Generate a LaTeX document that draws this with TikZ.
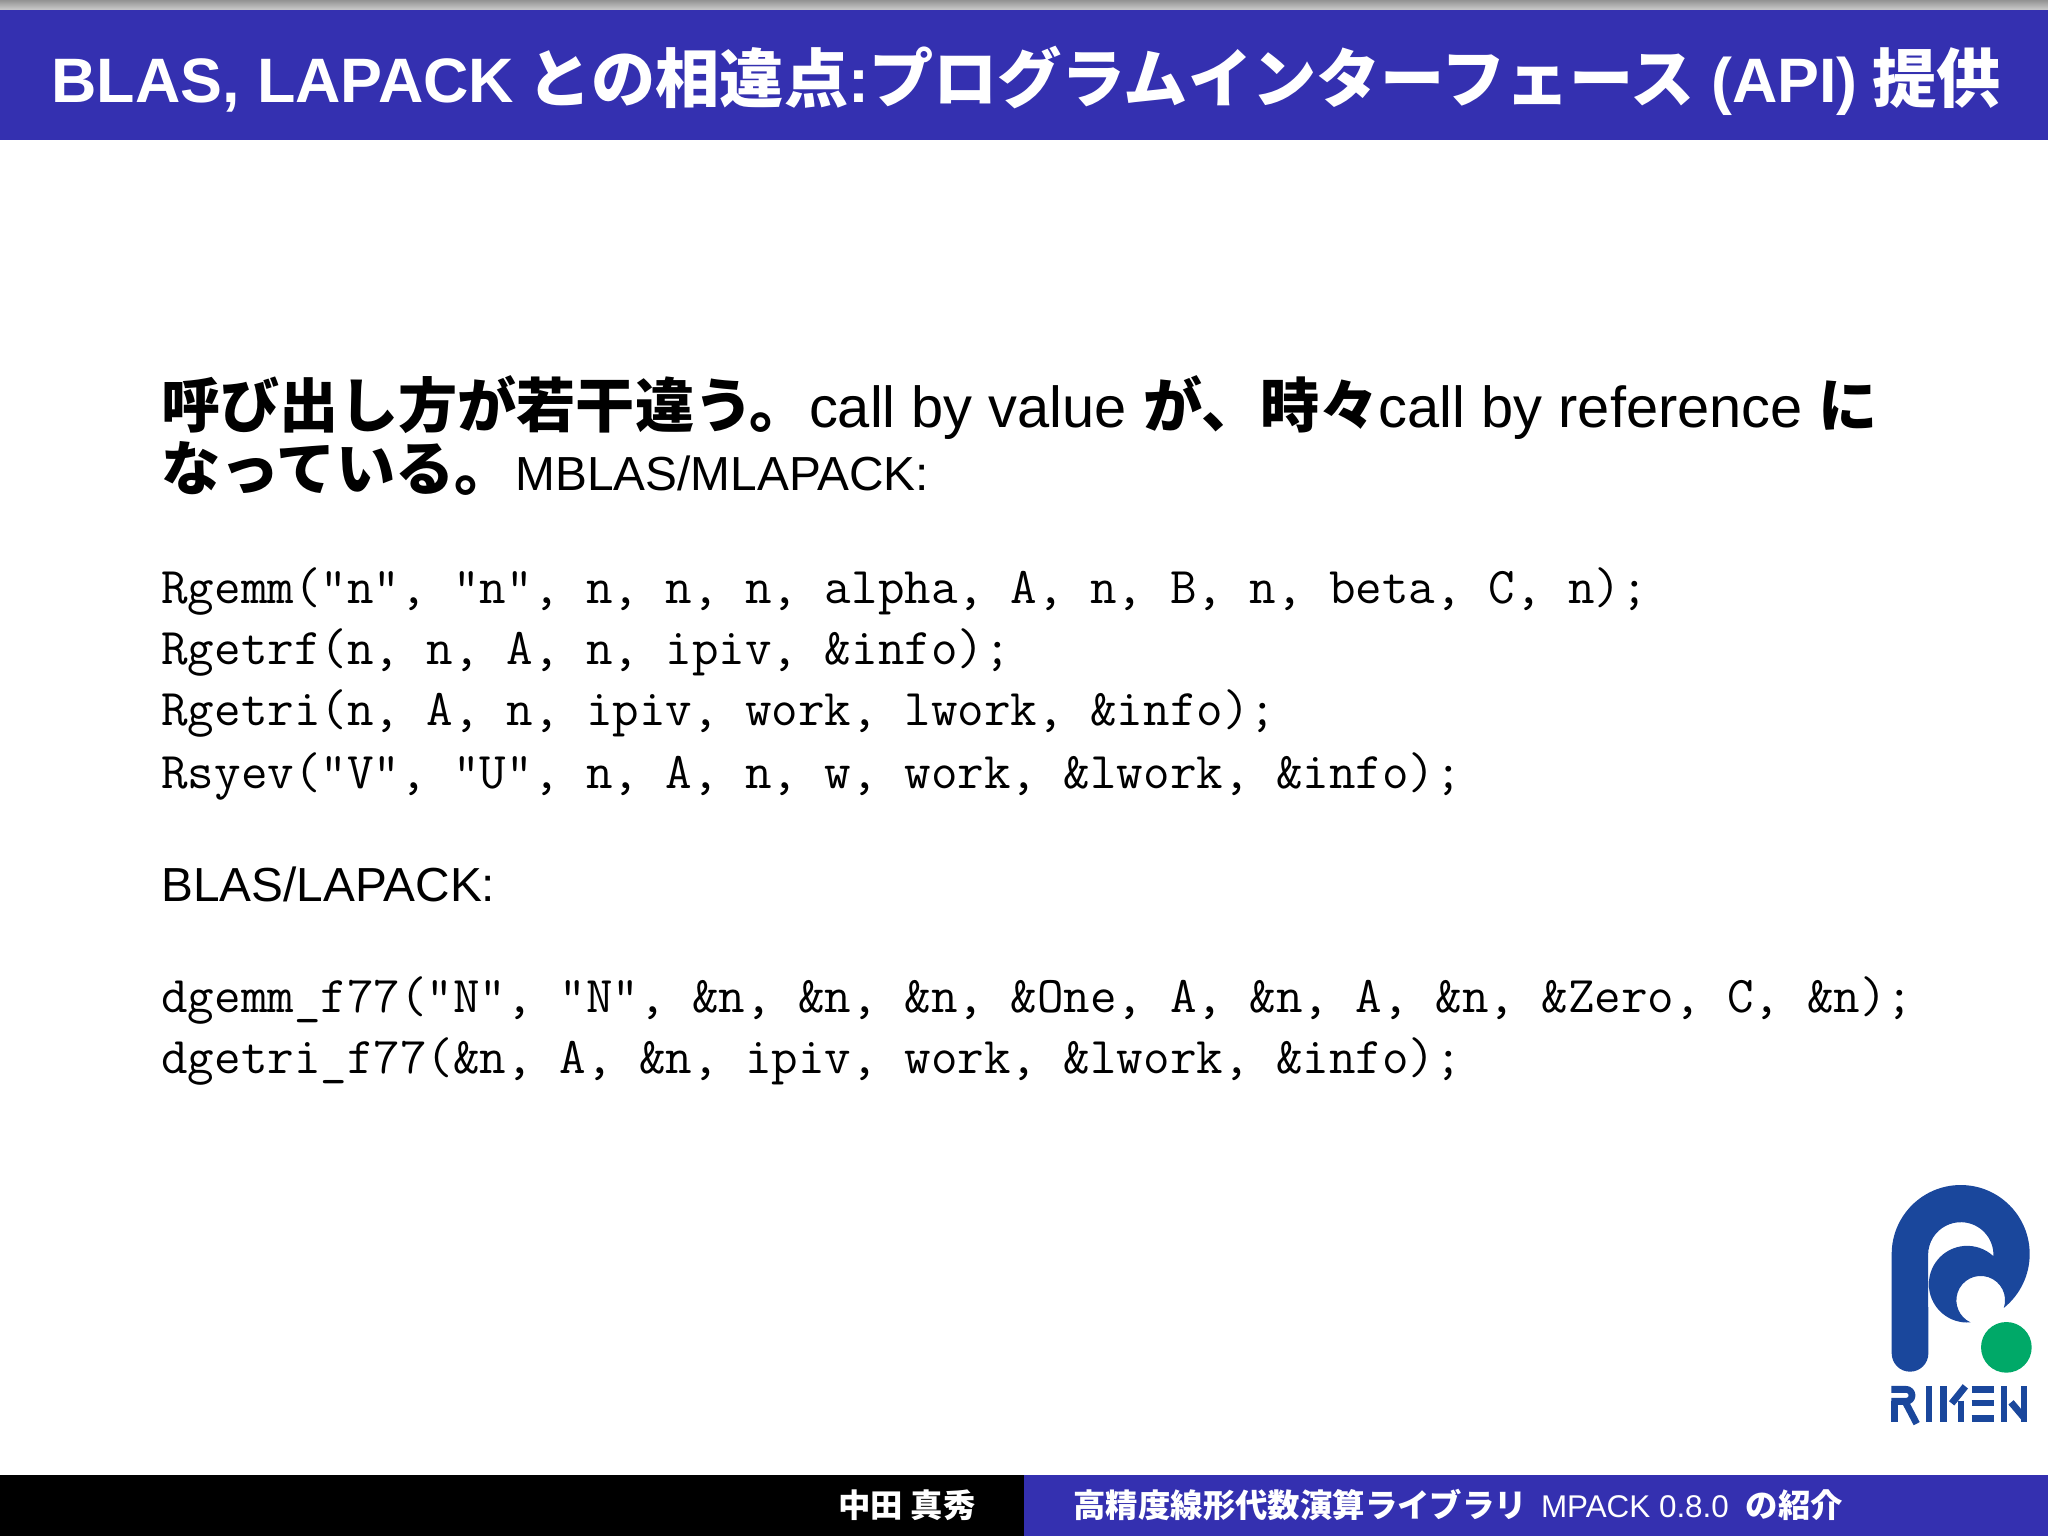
\documentclass[tikz,border=0pt]{standalone}
\usepackage{fontspec}
\setmainfont{Liberation Sans}
\newfontfamily\jpfont{Noto Sans CJK JP}
\newcommand{\jphead}[1]{{\jpfont\bfseries\fontsize{32.1}{34}\selectfont #1}}
\newcommand{\jpbody}[1]{{\jpfont\bfseries\fontsize{29.6}{32}\selectfont #1}}
\newcommand{\jpfoot}[1]{{\jpfont\bfseries\fontsize{16.2}{18}\selectfont #1}}
\definecolor{bannerblue}{RGB}{52,48,176}
\definecolor{rikenblue}{RGB}{26,71,156}
\definecolor{rikengreen}{RGB}{0,169,104}
\tikzset{
  headtext/.style={anchor=base west,inner sep=0pt,text=white,font=\fontsize{31.4}{34}\selectfont\bfseries},
  bodytext/.style={anchor=base west,inner sep=0pt,text=black,font=\fontsize{23.9}{28}\selectfont},
  leadtext/.style={bodytext,font=\fontsize{28.9}{32}\selectfont},
  codetext/.style={anchor=base west,inner sep=0pt,text=black,font=\fontsize{25.77}{28}\selectfont\ttfamily},
  foottext/.style={anchor=base west,inner sep=0pt,text=white,font=\fontsize{15.7}{18}\selectfont},
  letterbar/.style={draw=rikenblue,line width=3.4pt,line cap=butt,line join=round}
}
\begin{document}
\begin{tikzpicture}[x=0.5pt,y=-0.5pt]
	\useasboundingbox (0,0) rectangle (2048,1536);
	% top edge and title band
	\shade [top color=gray!85,bottom color=gray!40] (0,0) rectangle (2048,10);
	\fill [bannerblue] (0,10) rectangle (2048,140);
	\node [headtext] (title) at (51,103) {BLAS, LAPACK\hspace{6.8pt}\jphead{との相違点}:\jphead{プログラムインターフェース}\hspace{8.2pt}(API)\hspace{7.4pt}\jphead{提供}};
	% body
	\node [leadtext] (intro1) at (161,427) {\jpbody{呼び出し方が若干違う。}call by value \jpbody{が、時々}call by reference \jpbody{に}};
	\node [bodytext] (intro2) at (161,490) {\jpbody{なっている。}\hspace{1pt}MBLAS/MLAPACK:};
	\node [codetext] (mblas1) at (161,603) {Rgemm("n", "n", n, n, n, alpha, A, n, B, n, beta, C, n);};
	\node [codetext] (mblas2) at (161,664) {Rgetrf(n, n, A, n, ipiv, \&info);};
	\node [codetext] (mblas3) at (161,725) {Rgetri(n, A, n, ipiv, work, lwork, \&info);};
	\node [codetext] (mblas4) at (161,788) {Rsyev("V", "U", n, A, n, w, work, \&lwork, \&info);};
	\node [bodytext] (blas) at (161,901) {BLAS/LAPACK:};
	\node [codetext] (blas1) at (161,1012) {dgemm\_f77("N", "N", \&n, \&n, \&n, \&One, A, \&n, A, \&n, \&Zero, C, \&n);};
	\node [codetext] (blas2) at (161,1073) {dgetri\_f77(\&n, A, \&n, ipiv, work, \&lwork, \&info);};
	% footer
	\fill [black] (0,1475) rectangle (1024,1536);
	\fill [bannerblue] (1024,1475) rectangle (2048,1536);
	\node [foottext] (author) at (838,1517) {\jpfoot{中田 真秀}};
	\node [foottext] (talk) at (1073,1517) {\jpfoot{高精度線形代数演算ライブラリ}\hspace{7pt}MPACK 0.8.0\hspace{8.4pt}\jpfoot{の紹介}};
	% logo mark
	\begin{scope}[shift={(1840,1160)},x=0.16667pt,y=0.16667pt]
		\fill [rikenblue] (155,-282) arc [start angle=180,end angle=-51.3,radius=207]
			arc [start angle=-18.2,end angle=245.2,radius=73]
			arc [start angle=275,end angle=46.8,radius=115]
			arc [start angle=-2.4,end angle=180,radius=98]
			-- (265,-580) arc [start angle=0,end angle=-180,radius=55] -- cycle;
		\fill [rikengreen] (499,-562) circle (76);
	\end{scope}
	% logo letters
	\begin{scope}[shift={(1880,1375)},x=0.16667pt,y=-0.16667pt]
		\draw [letterbar] (34,43) -- (78,43) arc [start angle=-90,end angle=90,radius=18] -- (34,79);
		\draw [letterbar] (44,79) -- (44,141);
		\draw [letterbar] (78,85) -- (110,146);
		\draw [letterbar] (147,33) -- (147,141);
		\draw [letterbar] (190,33) -- (190,141);
		\draw [letterbar] (215,85) -- (256,34);
		\draw [letterbar] (243,77) -- (243,141);
		\draw [letterbar] (275,43) -- (342,43);
		\draw [letterbar] (275,84) -- (342,84);
		\draw [letterbar] (275,131) -- (342,131);
		\draw [letterbar] (372,33) -- (372,141);
		\draw [letterbar] (432,33) -- (432,141);
		\draw [letterbar] (393,82) -- (432,128);
	\end{scope}
\end{tikzpicture}
\end{document}
